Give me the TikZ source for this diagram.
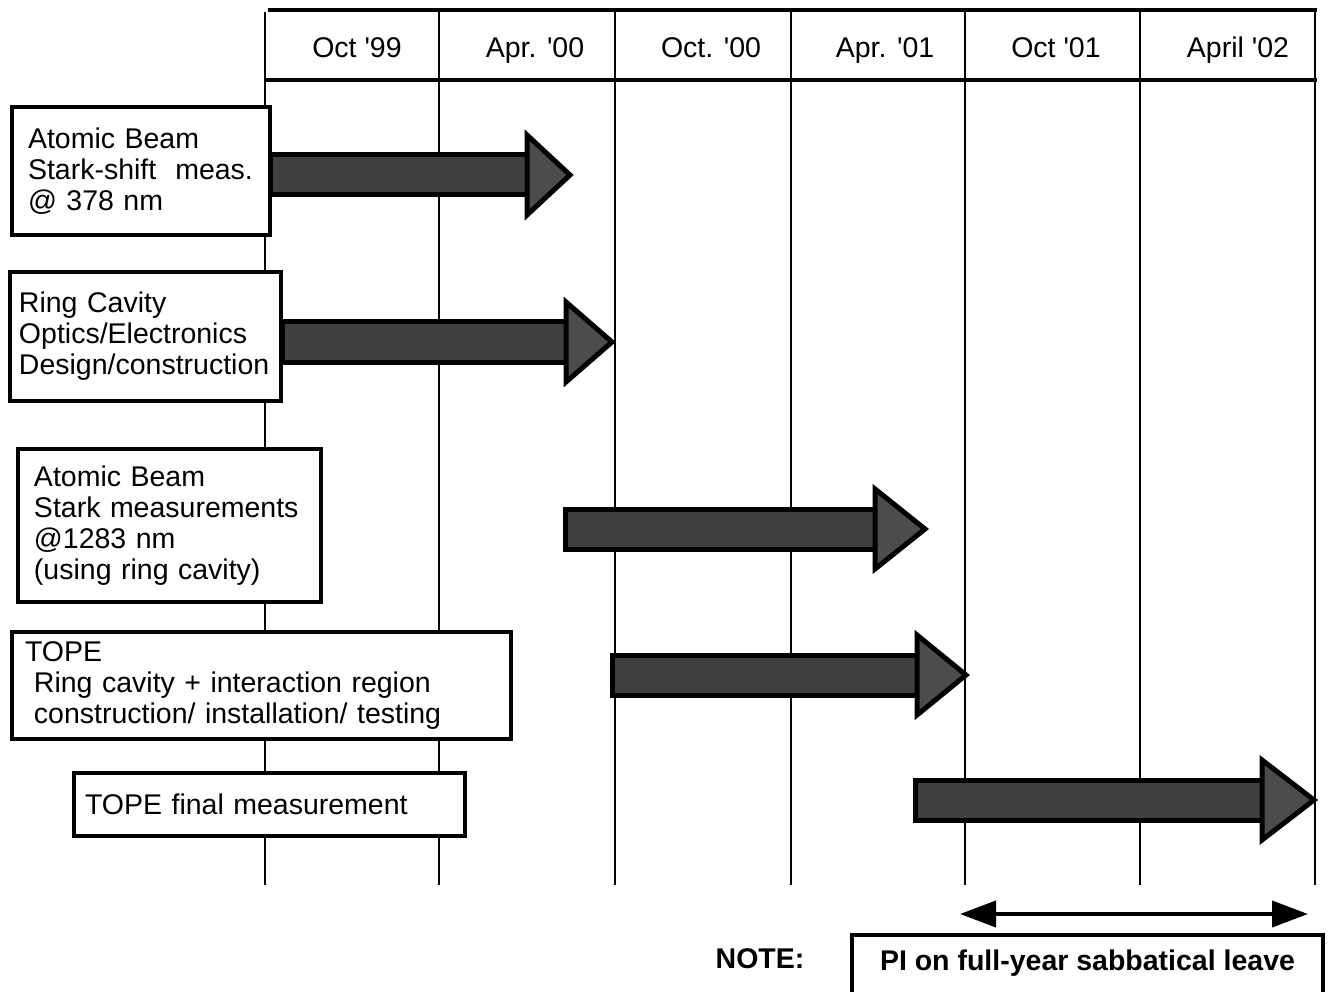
\documentclass[tikz,border=0pt]{standalone}
\usepackage{fontspec}
\setmainfont{Liberation Sans}
\usetikzlibrary{arrows.meta}

\begin{document}
\begin{tikzpicture}
	[x=1pt,y=-1pt,
	every node/.style={font=\fontsize{28.5}{31}\selectfont},
	task/.style={draw,fill=white,line width=4pt,align=left,inner ysep=0pt},
	gridline/.style={line width=2pt},
	headline/.style={line width=4.5pt},
	shaft/.style={draw,line width=5pt,fill=black!75},
	head/.style={draw,line width=5pt,fill=black!70,miter limit=20},
	datelabel/.style={anchor=base}]
	\clip (0,0) rectangle (1328,992);
	\fill[white] (0,0) rectangle (1328,992);
	
	% time axis
	\draw[gridline] (265,12) -- (265,885);
	\foreach \xg in {439,615,791,965,1140,1315}
	{
		\draw[gridline] (\xg,10) -- (\xg,885);
	}
	\draw[headline] (268,10) -- (1317,10);
	\draw[headline] (265,80) -- (1317,80);
	\foreach \xl/\lbl in {357/{Oct \textquotesingle99},535/{Apr. \textquotesingle00},
		711/{Oct. \textquotesingle00},885/{Apr. \textquotesingle01},
		1056/{Oct \textquotesingle01},1238/{April \textquotesingle02}}
	{
		\node[datelabel] (d\xl) at (\xl,58) {\lbl};
	}
	
	% bars
	\foreach \xs/\xb/\xt/\yc in {270/527/570/175,282/566/612/342,
		565/875/925/529,612/917/966/675,915/1262/1314/800}
	{
		\draw[shaft] (\xs,\yc-20) rectangle (\xb,\yc+20);
		\draw[head] (\xb,\yc-40) -- (\xt,\yc) -- (\xb,\yc+40) -- cycle;
	}
	
	% tasks
	\node[task,inner xsep=16pt,text width=226pt,minimum height=128pt] (beam1) at (141,171)
	{Atomic Beam\\Stark-shift~ meas.\\@ 378 nm};
	\node[task,inner xsep=9pt,text width=253pt,minimum height=129pt] (ring) at (145.5,336.5)
	{Ring Cavity\\Optics/Electronics\\Design/construction};
	\node[task,inner xsep=16pt,text width=271pt,minimum height=153pt] (beam2) at (169.5,525.5)
	{Atomic Beam\\Stark measurements\\@1283 nm\\(using ring cavity)};
	\node[task,inner xsep=13pt,text width=473pt,minimum height=107pt] (tope) at (261.5,685.5)
	{TOPE\\\hspace*{9pt}Ring cavity + interaction region\\\hspace*{9pt}construction/ installation/ testing};
	\node[task,inner xsep=11pt,text width=369pt,minimum height=63pt] (final) at (269.5,804.5)
	{TOPE final measurement};
	
	% sabbatical
	\coordinate (sabL) at (960,914);
	\coordinate (sabR) at (1308,914);
	\draw[line width=4pt,{Triangle[length=36pt,width=26pt]}-{Triangle[length=36pt,width=26pt]}] (sabL) -- (sabR);
	\node[anchor=base] (note) at (760,968) {\bfseries NOTE:};
	\node[draw,line width=4pt,anchor=base,minimum width=471pt,text height=30pt,text depth=50pt,inner ysep=5pt] (leave) at (1087.5,970)
	{\bfseries PI on full-year sabbatical leave};
\end{tikzpicture}
\end{document}
